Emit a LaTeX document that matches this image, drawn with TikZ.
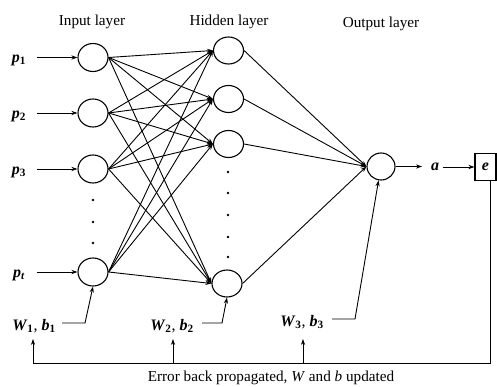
\documentclass[tikz,border=0pt]{standalone}
\usepackage{fontspec}
\setmainfont{Liberation Serif}
\usetikzlibrary{arrows.meta,shapes.geometric}
\newcommand\bsym[2]{\textbf{\textit{#1}}\textsubscript{\textbf{#2}}}
\begin{document}
\begin{tikzpicture}[x=1pt,y=-1pt,
  neuron/.style={draw,line width=1.1pt,ellipse,minimum width=30pt,minimum height=28pt,inner sep=0pt},
  arr/.style={-{Stealth[length=6pt,width=4.2pt]},line width=0.9pt},
  ln/.style={line width=0.9pt},
  ttl/.style={font=\fontsize{15.2}{17}\selectfont},
  lbl/.style={font=\fontsize{16}{18}\selectfont,inner sep=1pt},
  dotm/.style={circle,fill,inner sep=0pt,minimum size=2.8pt}]
\useasboundingbox (0,0) rectangle (497,387);
% titles
\node[ttl] (t1) at (92,22) {Input layer};
\node[ttl] (t2) at (229,22) {Hidden layer};
\node[ttl] (t3) at (381,24) {Output layer};
% input layer
\node[neuron] (i1) at (93,57.5) {};
\node[neuron] (i2) at (93,113) {};
\node[neuron] (i3) at (93,169) {};
\node[neuron] (i4) at (93,272) {};
% hidden layer
\node[neuron,minimum height=27pt] (h1) at (228.5,50.5) {};
\node[neuron,minimum height=27pt] (h2) at (228.5,99) {};
\node[neuron,minimum height=27pt] (h3) at (228.5,144) {};
\node[neuron,minimum height=27pt] (h4) at (227,283.5) {};
% output
\node[neuron,minimum width=28pt,minimum height=27pt] (o) at (381,166.5) {};
% dots
\foreach \y [count=\k] in {200,222,243} \node[dotm] (di\k) at (93,\y) {};
\foreach \y [count=\k] in {172,193,215,237,257} \node[dotm] (dh\k) at (228,\y) {};
% input labels
\node[lbl] (p1) at (19,60) {\bsym{p}{1}};
\node[lbl] (p2) at (19,116) {\bsym{p}{2}};
\node[lbl] (p3) at (19,172) {\bsym{p}{3}};
\node[lbl] (p4) at (19,275) {\textbf{\textit{p}}\textsubscript{\textbf{\textit{t}}}};
\coordinate (s1) at (37,57.5);
\coordinate (s2) at (37,113);
\coordinate (s3) at (37,169);
\coordinate (s4) at (37,272);
\draw[arr] (s1) -- (i1);
\draw[arr] (s2) -- (i2);
\draw[arr] (s3) -- (i3);
\draw[arr] (s4) -- (i4);
% full connections
\foreach \i in {1,2,3,4}
  \foreach \h in {1,2,3,4}
    \draw[arr] (i\i.east) -- (h\h.west);
\foreach \h in {1,2,3,4}
  \draw[arr] (h\h.east) -- (o.west);
% output to error
\node[lbl] (a) at (435,167) {\textbf{\textit{a}}};
\node[draw,line width=1.1pt,minimum width=21pt,minimum height=27pt,inner sep=0pt,font=\fontsize{16}{18}\selectfont] (e) at (485.5,167) {\textbf{\textit{e}}};
\coordinate (ao) at (422,166.5);
\draw[arr] (o.east) -- (ao);
\draw[arr] (a.east) ++(3,0) coordinate (ai) -- (e.west);
% weights
\node[lbl] (w1) at (34,326) {\bsym{W}{1}, \bsym{b}{1}};
\node[lbl] (w2) at (172,326) {\bsym{W}{2}, \bsym{b}{2}};
\node[lbl] (w3) at (302,322) {\bsym{W}{3}, \bsym{b}{3}};
\coordinate (k1) at (85,323);
\coordinate (k2) at (222,323);
\coordinate (k3) at (355,319);
\coordinate (g1) at (62,323);
\coordinate (g2) at (202,323);
\coordinate (g3) at (332,319);
\draw[arr] (g1) -- (k1) -- (i4.south);
\draw[arr] (g2) -- (k2) -- (h4.south);
\draw[arr] (g3) -- (k3) -- (o.-100);
% feedback
\coordinate (c0) at (33,363);
\coordinate (c1) at (490,363);
\coordinate (f1) at (33,339);
\coordinate (b2) at (173,363);
\coordinate (f2) at (173,339);
\coordinate (b3) at (303,363);
\coordinate (f3) at (303,339);
\draw[ln] (e.south -| c1) -- (c1) -- (c0);
\draw[arr] (c0) -- (f1);
\draw[arr] (b2) -- (f2);
\draw[arr] (b3) -- (f3);
\node[ttl] (cap) at (271,378) {Error back propagated, \textit{W} and \textit{b} updated};
\end{tikzpicture}
\end{document}
